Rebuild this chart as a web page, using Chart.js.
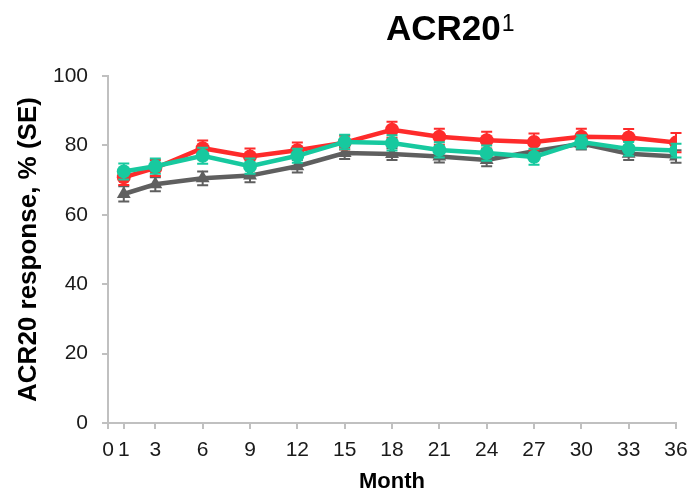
<!DOCTYPE html>
<html>
<head>
<meta charset="utf-8">
<script src="https://cdn.jsdelivr.net/npm/chart.js@4"></script>
<style>
  html, body { margin: 0; padding: 0; background: #fff; }
  #wrap { width: 691px; height: 493px; position: relative; }
</style>
</head>
<body>
<div id="wrap"><canvas id="myChart"></canvas></div>
<script>
//------------------data---------------------
const months = [1, 3, 6, 9, 12, 15, 18, 21, 24, 27, 30, 33, 36];
const xTicks = [0, 1, 3, 6, 9, 12, 15, 18, 21, 24, 27, 30, 33, 36];
const yTicks = [0, 20, 40, 60, 80, 100];

const redValues  = [70.8, 73.5, 79.2, 76.8, 78.6, 80.8, 84.5, 82.5, 81.5, 81.0, 82.5, 82.3, 80.8];
const redSE      = [2.2, 2.3, 2.2, 2.3, 2.2, 2.0, 2.3, 2.3, 2.4, 2.4, 2.3, 2.4, 2.8];
const tealValues = [72.5, 74.0, 77.0, 74.0, 77.0, 81.0, 80.7, 78.7, 77.8, 76.7, 81.0, 79.0, 78.5];
const tealSE     = [2.3, 2.2, 2.3, 2.2, 2.0, 2.1, 2.2, 2.2, 2.2, 2.3, 1.9, 2.0, 2.0];
const grayValues = [66.0, 68.8, 70.5, 71.3, 74.0, 77.8, 77.5, 76.8, 75.8, 78.3, 80.5, 77.6, 76.8];
const graySE     = [2.2, 2.0, 2.0, 1.9, 1.8, 1.7, 1.7, 1.7, 1.8, 1.8, 1.7, 1.8, 1.8];

const RED = '#fe2b2b';
const TEAL = '#17c99f';
const GRAY = '#5f5f5f';
const AXIS = '#c0c0c0';
const FONT = '"Liberation Sans", Arial, sans-serif';

function toPoints(values) {
  return months.map(function (m, i) { return { x: m, y: values[i] }; });
}

function makeDataset(label, values, se, color, style, radius, order) {
  return {
    label: label,
    data: toPoints(values),
    se: se,
    borderColor: color,
    backgroundColor: color,
    borderWidth: 4.5,
    pointStyle: style,
    pointRadius: radius,
    pointBorderWidth: 0,
    pointBackgroundColor: color,
    order: order
  };
}

//------------------plugins---------------------
// error bars, drawn under each dataset's own line
const errorBars = {
  id: 'errorBars',
  beforeDatasetDraw(chart, args) {
    const ds = chart.data.datasets[args.index];
    const xs = chart.scales.x;
    const ys = chart.scales.y;
    const ctx = chart.ctx;
    ctx.save();
    ctx.strokeStyle = ds.borderColor;
    ctx.lineWidth = 2;
    ds.data.forEach(function (p, i) {
      const px = xs.getPixelForValue(p.x);
      const top = ys.getPixelForValue(p.y + ds.se[i]);
      const bot = ys.getPixelForValue(p.y - ds.se[i]);
      ctx.beginPath();
      ctx.moveTo(px, top); ctx.lineTo(px, bot);
      ctx.moveTo(px - 5.5, top); ctx.lineTo(px + 5.5, top);
      ctx.moveTo(px - 5.5, bot); ctx.lineTo(px + 5.5, bot);
      ctx.stroke();
    });
    ctx.restore();
  }
};

// title with superscript
const bigTitle = {
  id: 'bigTitle',
  afterDraw(chart) {
    const ctx = chart.ctx;
    ctx.save();
    ctx.fillStyle = '#000';
    ctx.textBaseline = 'alphabetic';
    ctx.font = 'bold 35px ' + FONT;
    const main = 'ACR20';
    ctx.fillText(main, 386, 40);
    const w = ctx.measureText(main).width;
    ctx.font = '23px ' + FONT;
    ctx.fillText('1', 386 + w + 1, 31);
    ctx.restore();
  }
};

//------------------chart---------------------
function createChart() {
  const ctx = document.getElementById('myChart').getContext('2d');
  const tickFont = { family: FONT, size: 21 };

  new Chart(ctx, {
    type: 'line',
    data: {
      datasets: [
        makeDataset('Teal', tealValues, tealSE, TEAL, 'circle', 7, 1),
        makeDataset('Red', redValues, redSE, RED, 'circle', 7, 2),
        makeDataset('Gray', grayValues, graySE, GRAY, 'triangle', 8, 3)
      ]
    },
    options: {
      responsive: true,
      maintainAspectRatio: false,
      animation: false,
      layout: { padding: { top: 76, right: 15, left: 0, bottom: 0 } },
      plugins: {
        legend: { display: false },
        tooltip: { enabled: false },
        title: { display: false }
      },
      scales: {
        x: {
          type: 'linear',
          min: 0,
          max: 36,
          afterBuildTicks: function (axis) {
            axis.ticks = xTicks.map(function (v) { return { value: v }; });
          },
          afterFit: function (axis) {
            axis.height = 70;
            axis.paddingLeft = 0;
            axis.paddingRight = 0;
          },
          ticks: {
            autoSkip: false,
            maxRotation: 0,
            color: '#1a1a1a',
            font: tickFont,
            padding: 9
          },
          grid: { drawOnChartArea: false, drawTicks: true, tickLength: 6, color: AXIS, lineWidth: 2 },
          border: { color: AXIS, width: 2 },
          title: {
            display: true,
            text: 'Month',
            color: '#000',
            font: { family: FONT, size: 22, weight: 'bold' },
            padding: { top: 0, bottom: -2 }
          }
        },
        y: {
          min: 0,
          max: 100,
          afterBuildTicks: function (axis) {
            axis.ticks = yTicks.map(function (v) { return { value: v }; });
          },
          afterFit: function (axis) { axis.width = 108; },
          ticks: {
            color: '#1a1a1a',
            font: tickFont,
            padding: 14
          },
          grid: { drawOnChartArea: false, drawTicks: true, tickLength: 6, color: AXIS, lineWidth: 2 },
          border: { color: AXIS, width: 2 },
          title: {
            display: true,
            text: 'ACR20 response, % (SE)',
            color: '#000',
            font: { family: FONT, size: 26, weight: 'bold' },
            padding: 13
          }
        }
      }
    },
    plugins: [errorBars, bigTitle]
  });
}

createChart();
</script>
</body>
</html>
